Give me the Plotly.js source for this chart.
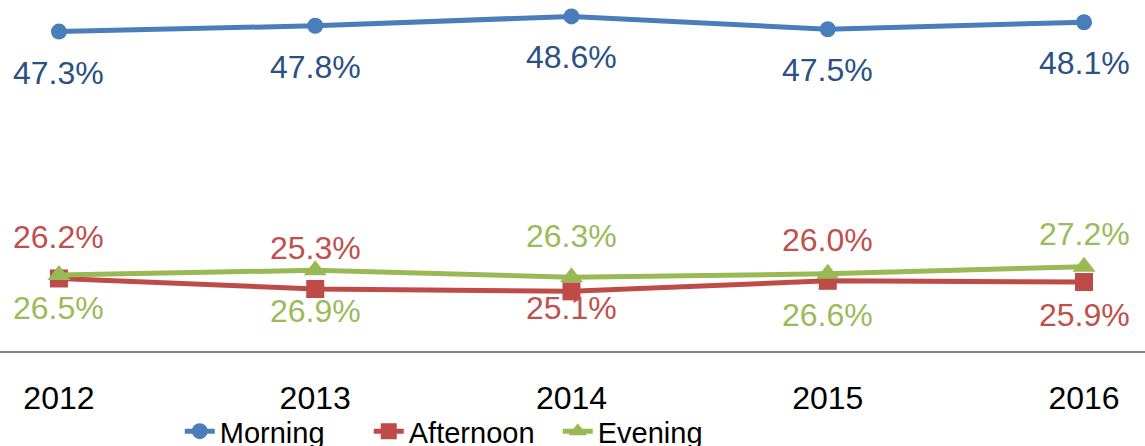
<!DOCTYPE html>
<html>
<head>
<meta charset="utf-8">
<script src="https://cdn.plot.ly/plotly-3.0.1.min.js"></script>
<style>html,body{margin:0;padding:0;background:#fff;}#chart{width:1145px;height:446px;}</style>
</head>
<body>
<div id="chart"></div>
<script>
const years = ['2012', '2013', '2014', '2015', '2016'];
const morning = [47.3, 47.8, 48.6, 47.5, 48.1];
const afternoon = [26.2, 25.3, 25.1, 26.0, 25.9];
const evening = [26.5, 26.9, 26.3, 26.6, 27.2];

// label placement (style): positive = above point, negative = below point, magnitude scales the offset
const morningPlace = [-1, -1, -1, -1, -1];
const afternoonPlace = [1, 1, -0.4, 1, -0.8];
const eveningPlace = [-0.8, -1, 1, -1, 0.8];

const series = [
  {name: 'Morning', values: morning, place: morningPlace, color: '#4A7EBB', labelColor: '#2B5182', symbol: 'circle', msize: 16},
  {name: 'Afternoon', values: afternoon, place: afternoonPlace, color: '#BE4B48', labelColor: '#C0504D', symbol: 'square', msize: 18},
  {name: 'Evening', values: evening, place: eveningPlace, color: '#98B954', labelColor: '#9BBB59', symbol: 'triangle-up', msize: 20}
];

const FONT = 'Liberation Sans, Arial, sans-serif';
const traces = series.map(s => ({
  type: 'scatter', mode: 'lines+markers', name: s.name,
  x: years, y: s.values,
  line: {color: s.color, width: 5},
  marker: {color: s.color, symbol: s.symbol, size: s.msize},
  hoverinfo: 'skip'
}));

const annotations = [];
series.forEach(s => {
  s.values.forEach((v, i) => {
    annotations.push({
      x: i, y: v, xref: 'x', yref: 'y',
      text: v.toFixed(1) + '%', showarrow: false,
      yshift: s.place[i] * 41,
      font: {family: FONT, size: 32, color: s.labelColor}
    });
  });
});

const layout = {
  width: 1145, height: 446,
  margin: {l: 0, r: 0, t: 0, b: 95, pad: 0},
  paper_bgcolor: '#fff', plot_bgcolor: '#fff',
  showlegend: true,
  xaxis: {
    type: 'category', range: [-0.230, 4.238],
    showgrid: false, zeroline: false,
    showline: true, linecolor: '#868686', linewidth: 2,
    ticks: '', ticklabelstandoff: 18,
    tickfont: {family: FONT, size: 32, color: '#000'}
  },
  yaxis: {
    range: [20, 50], showgrid: false, zeroline: false,
    showline: false, showticklabels: false, ticks: ''
  },
  legend: {
    orientation: 'h', xref: 'container', yref: 'container',
    x: 0.157, xanchor: 'left', y: 0.09, yanchor: 'top',
    font: {family: FONT, size: 29, color: '#000'},
    bgcolor: 'rgba(0,0,0,0)',
    entrywidth: 144, entrywidthmode: 'pixels'
  },
  annotations: annotations
};

Plotly.newPlot('chart', traces, layout, {displayModeBar: false, staticPlot: true});
</script>
</body>
</html>
